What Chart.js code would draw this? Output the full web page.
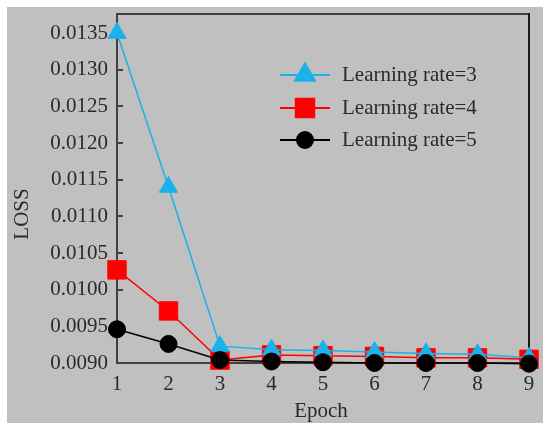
<!DOCTYPE html>
<html>
<head>
<meta charset="utf-8">
<script src="https://cdn.jsdelivr.net/npm/chart.js@4/dist/chart.umd.min.js"></script>
<style>
  html, body { margin: 0; padding: 0; background: #ffffff; }
  #wrap { width: 543px; height: 423px; position: relative; }
</style>
</head>
<body>
<div id="wrap"><canvas id="c" width="543" height="423"></canvas></div>
<script>
// Epochs on the x axis
const epochs = [1, 2, 3, 4, 5, 6, 7, 8, 9];

// Loss per epoch for each learning rate
const lossRate3 = [0.01350, 0.01140, 0.00923, 0.00918, 0.00917, 0.00915, 0.00913, 0.00912, 0.00907];
const lossRate4 = [0.01027, 0.00971, 0.00904, 0.00911, 0.00910, 0.00909, 0.00907, 0.00907, 0.00905];
const lossRate5 = [0.00946, 0.00926, 0.00904, 0.00902, 0.00901, 0.00900, 0.00900, 0.00900, 0.00899];

// Series names
const seriesNames = ['Learning rate=3', 'Learning rate=4', 'Learning rate=5'];

// Y axis tick values
const yTicks = [0.0090, 0.0095, 0.0100, 0.0105, 0.0110, 0.0115, 0.0120, 0.0125, 0.0130, 0.0135];

const FONT = "'Liberation Serif', 'Times New Roman', serif";
const TEXT = '#2a2a2a';
const AXIS = '#404040';

// Grey panel behind the figure
const panelPlugin = {
  id: 'panel',
  beforeDraw(chart) {
    const ctx = chart.ctx;
    ctx.save();
    ctx.fillStyle = '#ffffff';
    ctx.fillRect(0, 0, chart.width, chart.height);
    ctx.fillStyle = '#c0c0c0';
    ctx.fillRect(7, 7, chart.width - 7, chart.height - 7);
    ctx.restore();
  }
};

// Top and right edges of the plot box, plus the axis titles
const framePlugin = {
  id: 'frame',
  beforeDatasetsDraw(chart) {
    const {ctx, chartArea: a} = chart;
    ctx.save();
    ctx.strokeStyle = AXIS;
    ctx.lineWidth = 2;
    ctx.beginPath();
    ctx.moveTo(a.left, a.top);
    ctx.lineTo(a.right, a.top);
    ctx.stroke();
    ctx.strokeStyle = '#1a1a1a';
    ctx.beginPath();
    ctx.moveTo(a.right, a.top - 1);
    ctx.lineTo(a.right, a.bottom);
    ctx.stroke();

    ctx.fillStyle = TEXT;
    ctx.font = '21px ' + FONT;
    ctx.textAlign = 'center';
    ctx.textBaseline = 'middle';
    ctx.fillText('Epoch', (a.left + a.right) / 2 - 2, 411);
    ctx.translate(22, 214);
    ctx.rotate(-Math.PI / 2);
    ctx.fillText('LOSS', 0, 0);
    ctx.restore();
  }
};

// Legend with a short line and marker per series
const legendPlugin = {
  id: 'lineLegend',
  afterDatasetsDraw(chart) {
    const ctx = chart.ctx;
    const rows = [75, 108, 140];
    const x0 = 280, x1 = 330, tx = 342;
    ctx.save();
    chart.data.datasets.forEach((ds, i) => {
      const y = rows[i];
      ctx.strokeStyle = ds.borderColor;
      ctx.lineWidth = 2;
      ctx.beginPath();
      ctx.moveTo(x0, y);
      ctx.lineTo(x1, y);
      ctx.stroke();
      ctx.fillStyle = ds.pointBackgroundColor;
      ctx.strokeStyle = ds.pointBorderColor;
      Chart.helpers.drawPoint(ctx, {
        pointStyle: ds.pointStyle,
        radius: ds.legendRadius,
        borderWidth: 1,
        rotation: 0
      }, (x0 + x1) / 2, y);
      ctx.fillStyle = TEXT;
      ctx.font = '21px ' + FONT;
      ctx.textAlign = 'left';
      ctx.textBaseline = 'middle';
      ctx.fillText(ds.label, tx, y);
    });
    ctx.restore();
  }
};

const makeSet = (label, data, color, style, radius, legendRadius, order) => ({
  label, data,
  borderColor: color,
  backgroundColor: color,
  pointBackgroundColor: color,
  pointBorderColor: color,
  pointBorderWidth: 1,
  pointStyle: style,
  pointRadius: radius,
  pointHoverRadius: radius,
  borderWidth: 1.5,
  tension: 0,
  clip: false,
  order,
  legendRadius
});

new Chart(document.getElementById('c'), {
  type: 'line',
  data: {
    labels: epochs,
    datasets: [
      makeSet(seriesNames[0], lossRate3, '#19b2ea', 'triangle', 10.5, 11.5, 2),
      makeSet(seriesNames[1], lossRate4, '#ff0000', 'rect', 13, 13, 3),
      makeSet(seriesNames[2], lossRate5, '#000000', 'circle', 8.5, 8, 1)
    ]
  },
  options: {
    responsive: false,
    animation: false,
    devicePixelRatio: 1,
    layout: { padding: { left: 0, right: 10, top: 13, bottom: 0 } },
    plugins: {
      legend: { display: false },
      tooltip: { enabled: false }
    },
    scales: {
      x: {
        type: 'category',
        offset: false,
        grid: { display: true, drawOnChartArea: false, drawTicks: false, tickLength: 0 },
        border: { display: true, color: AXIS, width: 2 },
        ticks: {
          color: TEXT,
          font: { family: FONT, size: 21 },
          padding: 9,
          maxRotation: 0,
          autoSkip: false
        },
        afterFit(scale) {
          scale.height = 60;
          scale.paddingLeft = 0;
          scale.paddingRight = 0;
        }
      },
      y: {
        type: 'linear',
        min: 0.0090,
        max: 0.01376,
        grid: { display: true, drawOnChartArea: false, drawTicks: true, tickLength: -6, color: AXIS, lineWidth: 2 },
        border: { display: true, color: AXIS, width: 2 },
        ticks: {
          color: TEXT,
          font: { family: FONT, size: 21 },
          padding: 15,
          callback: v => Number(v).toFixed(4)
        },
        afterBuildTicks(scale) { scale.ticks = yTicks.map(v => ({ value: v })); },
        afterFit(scale) {
          scale.width = 117;
          scale.paddingTop = 0;
          scale.paddingBottom = 0;
        }
      }
    }
  },
  plugins: [panelPlugin, framePlugin, legendPlugin]
});
</script>
</body>
</html>
